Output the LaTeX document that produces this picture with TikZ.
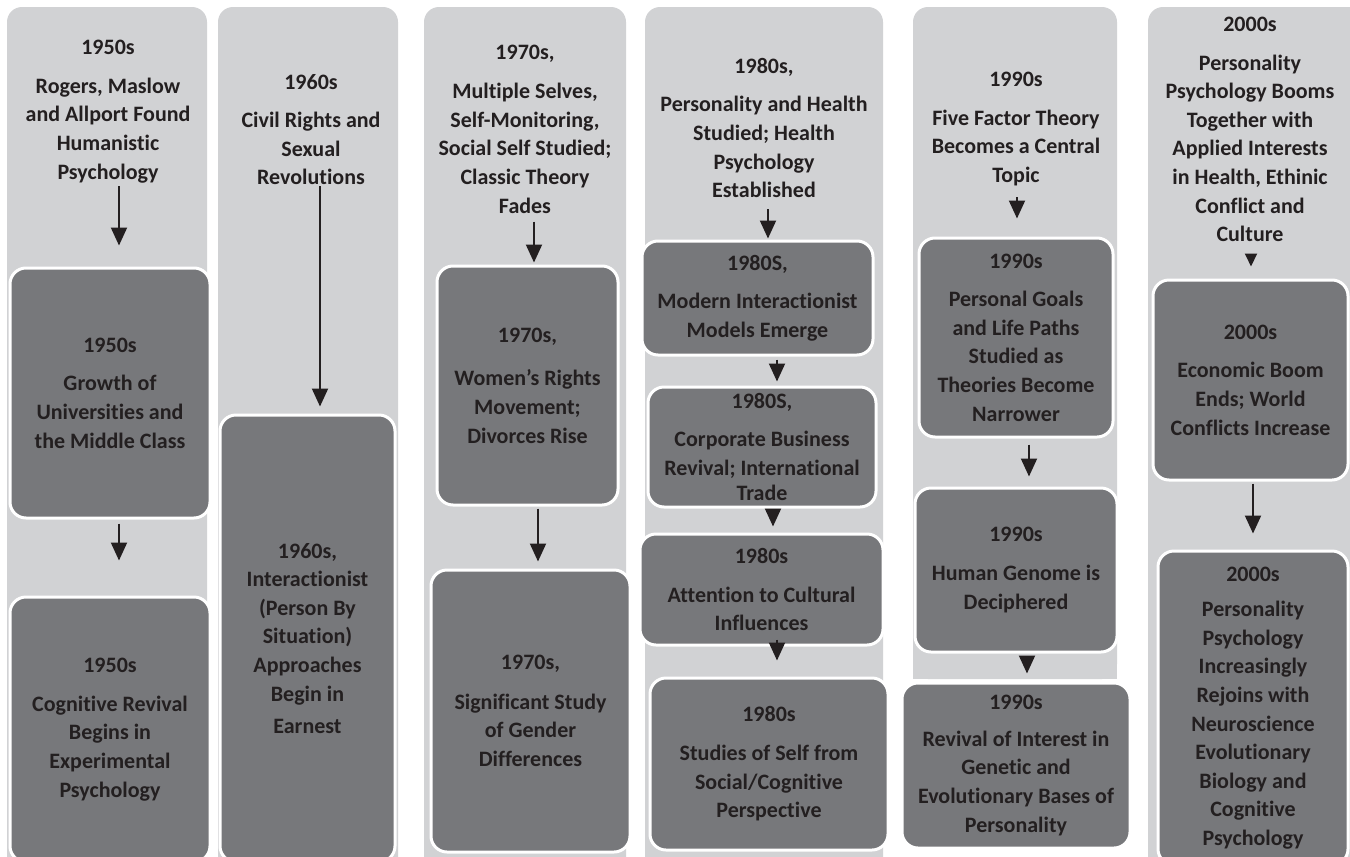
\documentclass[tikz,border=0pt]{standalone}
\usepackage{fontspec}
\defaultfontfeatures{}
\setmainfont{Carlito}[Ligatures=NoCommon]
\usetikzlibrary{arrows.meta,calc}
\definecolor{colbg}{HTML}{D1D2D4}
\definecolor{boxfill}{HTML}{77787B}
\definecolor{ink}{HTML}{231F20}
\tikzset{
  head/.style={align=center, inner sep=0pt, text=ink},
  tbox/.style={draw=white, line width=1.5pt, fill=boxfill, rounded corners=8pt, inner sep=0pt, align=center, text=ink},
  arr/.style={draw=ink, line width=1pt, -{Triangle[width=8pt,length=9pt]}},
  arrs/.style={draw=ink, line width=1pt, -{Triangle[width=6pt,length=6.5pt]}},
  colfill/.style={fill=colbg, rounded corners=7.5pt}
}
\begin{document}
\begin{tikzpicture}[x=0.5pt,y=-0.5pt,font=\bfseries\fontsize{11}{14.3}\selectfont]
\useasboundingbox (0,0) rectangle (1350,857);
\clip (0,0) rectangle (1350,857);
\fill[white] (0,0) rectangle (1350,857);
% columns
\fill[colfill] (7,7) rectangle (207,900);
\fill[colfill] (218,7) rectangle (398,900);
\fill[colfill] (424,7) rectangle (626,900);
\fill[colfill] (645,7) rectangle (883,900);
\fill[colfill] (913,7) rectangle (1117,679);
\fill[colbg] (913,400) rectangle (1117,679);
\fill[colfill] (1148,7) rectangle (1380,900);
% headings
\node[head] (h1) at (108,111.5) {1950s\\[5pt]Rogers, Maslow\\and Allport Found\\Humanistic\\Psychology};
\node[head] (h2) at (311,129.5) {1960s\\[5pt]Civil Rights and\\Sexual\\Revolutions};
\node[head] (h3) at (525,129) {1970s,\\[5.5pt]Multiple Selves,\\Self-Monitoring,\\Social Self Studied;\\Classic Theory\\Fades};
\node[head] (h4) at (764,128) {1980s,\\[5pt]Personality and Health\\Studied; Health\\Psychology\\Established};
\node[head] (h5) at (1016,129) {1990s\\[5pt]Five Factor Theory\\Becomes a Central\\Topic};
\node[head] (h6) at (1250,129.5) {2000s\\[5pt]Personality\\Psychology Booms\\Together with\\Applied Interests\\in Health, Ethinic\\Conflict and\\Culture};
% boxes
\node[tbox, minimum width=100pt, minimum height=125pt] (b1a) at (110,393) {1950s\\[5pt]Growth of\\Universities and\\the Middle Class};
\node[tbox, minimum width=100pt, minimum height=132.5pt] (b1b) at (110,729.5) {1950s\\[5pt]Cognitive Revival\\Begins in\\Experimental\\Psychology};
\node[tbox, minimum width=87.5pt, minimum height=223.5pt] (b2) at (307.5,638.5) {1960s,\\Interactionist\\(Person By\\Situation)\\Approaches\\Begin in\\[2pt]Earnest};
\node[tbox, minimum width=90.5pt, minimum height=119.5pt] (b3a) at (527.5,385.5) {1970s,\\[7.5pt]Women's Rights\\Movement;\\Divorces Rise};
\node[tbox, minimum width=99.5pt, minimum height=141pt] (b3b) at (530.5,711) {1970s,\\[5.5pt]Significant Study\\of Gender\\Differences};
\node[tbox, minimum width=115.5pt, minimum height=57pt] (b4a) at (757.5,298) {1980S,\\[5pt]Modern Interactionist\\Models Emerge};
\node[tbox, minimum width=114pt, minimum height=60pt] (b4b) at (762,447) {1980S,\\[5pt]Corporate Business\\Revival; International\\[-1.5pt]Trade};
\node[tbox, minimum width=121.5pt, minimum height=55.5pt] (b4c) at (761.5,589.5) {1980s\\[5pt]Attention to Cultural\\Influences};
\node[tbox, minimum width=119pt, minimum height=86pt] (b4d) at (769,764) {1980s\\[5pt]Studies of Self from\\Social/Cognitive\\Perspective};
\node[tbox, minimum width=97pt, minimum height=99.5pt] (b5a) at (1016,337.5) {1990s\\[5pt]Personal Goals\\and Life Paths\\Studied as\\Theories Become\\Narrower};
\node[tbox, minimum width=101pt, minimum height=82pt] (b5b) at (1016,570) {1990s\\[5.5pt]Human Genome is\\Deciphered};
\node[tbox, minimum width=114pt, minimum height=82.5pt] (b5c) at (1016,765.5) {1990s\\[4pt]Revival of Interest in\\Genetic and\\Evolutionary Bases of\\Personality};
\node[tbox, minimum width=97.5pt, minimum height=100pt] (b6a) at (1250.5,380) {2000s\\[5pt]Economic Boom\\Ends; World\\Conflicts Increase};
\node[tbox, minimum width=95pt, minimum height=157pt] (b6b) at (1253,708) {2000s\\[3.5pt]Personality\\Psychology\\Increasingly\\Rejoins with\\Neuroscience\\Evolutionary\\Biology and\\Cognitive\\Psychology};
% arrows
\draw[arr] ($(h1.south)+(11,3)$) -- ($(b1a.north)+(9,-21)$);
\draw[arr] ($(b1a.south)+(9,4)$) -- ($(b1b.north)+(9,-35)$);
\draw[arr] ($(h2.south)+(9,1)$) -- ($(b2.north)+(12.5,-7)$);
\draw[arr] ($(h3.south)+(9,8)$) -- ($(b3a.north)+(6.5,-2)$);
\draw[arr] ($(b3a.south)+(10.5,2)$) -- ($(b3b.north)+(7.5,-7)$);
\draw[arr] ($(h4.south)+(4,11)$) -- ($(b4a.north)+(10.5,-1)$);
\draw[arr] ($(b4a.south)+(19.5,3)$) -- ($(b4b.north)+(15,-4)$);
\draw[arr] ($(b4b.south)+(11,1)$) -- ($(b4c.north)+(11.5,-6)$);
\draw[arr] ($(b4c.south)+(15.5,-7)$) -- ($(b4d.north)+(8,-16)$);
\draw[arr] ($(h5.south)+(1,11)$) -- ($(b5a.north)+(1,-18)$);
\draw[arr] ($(b5a.south)+(13,6)$) -- ($(b5b.north)+(13,-10)$);
\draw[arr] ($(b5b.south)+(11,3)$) -- ($(b5c.north)+(11,-8)$);
\draw[arrs] ($(h6.south)+(1,13)$) -- ($(b6a.north)+(0.5,-12)$);
\draw[arr] ($(b6a.south)+(2.5,2)$) -- ($(b6b.north)+(0,-16)$);
\end{tikzpicture}
\end{document}
